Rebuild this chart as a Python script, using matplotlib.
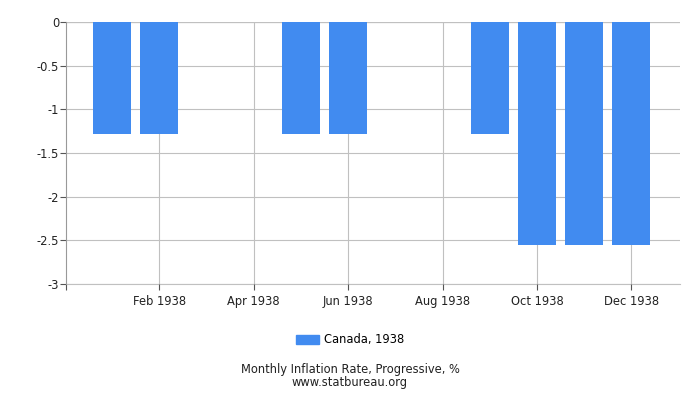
import matplotlib
matplotlib.use("Agg")
import matplotlib.pyplot as plt
from matplotlib.patches import Patch

months = ["Jan", "Feb", "Mar", "Apr", "May", "Jun", "Jul", "Aug", "Sep", "Oct", "Nov", "Dec"]
values = [-1.28, -1.28, 0, 0, -1.28, -1.28, 0, 0, -1.28, -2.55, -2.55, -2.55]
tick_labels = ["Feb 1938", "Apr 1938", "Jun 1938", "Aug 1938", "Oct 1938", "Dec 1938"]
tick_idx = [1, 3, 5, 7, 9, 11]
y_ticks = [0, -0.5, -1, -1.5, -2, -2.5, -3]
y_labels = ["0", "-0.5", "-1", "-1.5", "-2", "-2.5", "-3"]
series_name = "Canada, 1938"
color = "#418bf0"

fs = 8.3
fig = plt.figure(figsize=(7, 4), dpi=100)
ax = fig.add_axes([66/700, 1-284/400, (680-66)/700, (284-22)/400])
x = list(range(len(months)))
ax.bar(x, values, width=0.8, color=color, zorder=3)
ax.set_xlim(-0.975, 12.03)
ax.set_ylim(-3, 0)
ax.set_yticks(y_ticks)
ax.set_yticklabels(y_labels, fontsize=fs, color="#222222")
ax.set_xticks(tick_idx)
ax.set_xticklabels(tick_labels, fontsize=fs, color="#222222")
ax.set_xticks([-0.975], minor=True)
ax.grid(True, which="major", color="#c0c0c0", linewidth=0.8, zorder=0)
for s in ["right", "bottom", "top"]:
    ax.spines[s].set_visible(False)
ax.spines["left"].set_color("#999999")
ax.axhline(0, color="#999999", linewidth=0.8, zorder=1)
ax.axhline(-3, color="#c0c0c0", linewidth=0.8, zorder=1, clip_on=False)
ax.tick_params(axis="both", which="both", length=4, color="#555555", width=0.8)
ax.tick_params(axis="x", pad=4)
ax.tick_params(axis="y", pad=1)

fig.legend(handles=[Patch(color=color, label=series_name)], loc="center",
           bbox_to_anchor=(0.5, 1-340/400), frameon=False, fontsize=fs,
           handlelength=2.0, handleheight=0.8, handletextpad=0.4)
fig.text(0.5, 1-370/400, "Monthly Inflation Rate, Progressive, %", ha="center", va="center",
         fontsize=fs, color="#222222")
fig.text(0.5, 1-382.5/400, "www.statbureau.org", ha="center", va="center",
         fontsize=fs, color="#222222")
fig.savefig("out.png", dpi=100)
